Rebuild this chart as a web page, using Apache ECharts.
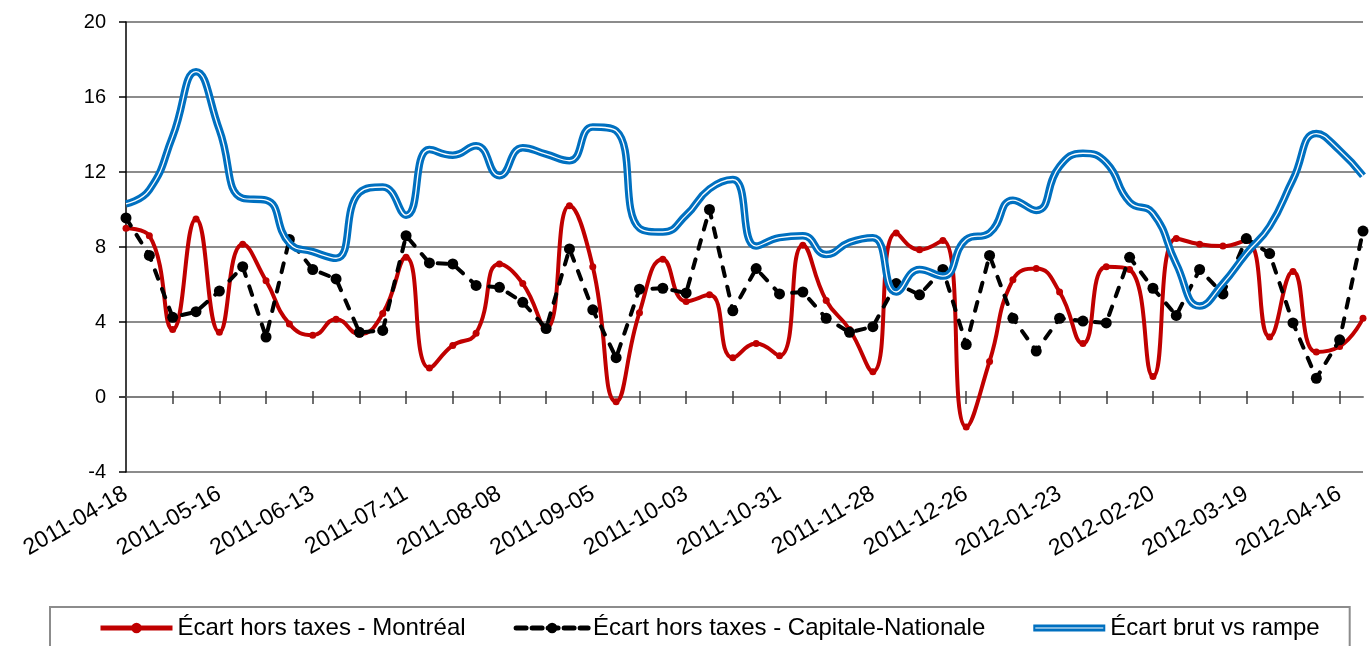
<!DOCTYPE html>
<html>
<head>
<meta charset="utf-8">
<script src="https://cdn.jsdelivr.net/npm/echarts@6/dist/echarts.min.js"></script>
<style>
  html, body { margin: 0; padding: 0; background: #fff; }
  #chart { width: 1370px; height: 646px; }
</style>
</head>
<body>
<div id="chart"></div>
<script>
// weekly dates shown on the category axis
const weeks = [
  '2011-04-18', '2011-04-25', '2011-05-02', '2011-05-09', '2011-05-16', '2011-05-23', '2011-05-30',
  '2011-06-06', '2011-06-13', '2011-06-20', '2011-06-27', '2011-07-04', '2011-07-11', '2011-07-18',
  '2011-07-25', '2011-08-01', '2011-08-08', '2011-08-15', '2011-08-22', '2011-08-29', '2011-09-05',
  '2011-09-12', '2011-09-19', '2011-09-26', '2011-10-03', '2011-10-10', '2011-10-17', '2011-10-24',
  '2011-10-31', '2011-11-07', '2011-11-14', '2011-11-21', '2011-11-28', '2011-12-05', '2011-12-12',
  '2011-12-19', '2011-12-26', '2012-01-02', '2012-01-09', '2012-01-16', '2012-01-23', '2012-01-30',
  '2012-02-06', '2012-02-13', '2012-02-20', '2012-02-27', '2012-03-05', '2012-03-12', '2012-03-19',
  '2012-03-26', '2012-04-02', '2012-04-09', '2012-04-16', '2012-04-23'
];

const montreal = [
  9.0, 8.6, 3.6, 9.5, 3.45, 8.15, 6.2, 3.9, 3.3, 4.15,
  3.35, 4.45, 7.45, 1.55, 2.75, 3.4, 7.1, 6.05, 3.65, 10.2,
  6.95, -0.25, 4.5, 7.35, 5.1, 5.45, 2.1, 2.85, 2.2, 8.1,
  5.15, 3.6, 1.35, 8.75, 7.85, 8.35, -1.6, 1.9, 6.25, 6.85,
  5.6, 2.85, 6.95, 6.8, 1.1, 8.45, 8.15, 8.05, 8.35, 3.2,
  6.7, 2.4, 2.7, 4.2
];

const capitaleNationale = [
  9.55, 7.55, 4.25, 4.55, 5.65, 6.95, 3.2, 8.4, 6.8, 6.3,
  3.45, 3.55, 8.6, 7.15, 7.1, 5.95, 5.85, 5.05, 3.65, 7.9,
  4.65, 2.1, 5.75, 5.8, 5.55, 10.0, 4.6, 6.85, 5.5, 5.6,
  4.2, 3.45, 3.75, 6.05, 5.45, 6.8, 2.8, 7.55, 4.2, 2.45,
  4.2, 4.05, 3.95, 7.45, 5.8, 4.35, 6.8, 5.5, 8.45, 7.65,
  3.95, 1.0, 3.05, 8.85
];

const brutVsRampe = [
  10.3, 11.05, 13.9, 17.35, 14.25, 10.6, 10.5, 8.2, 7.75, 7.4,
  10.9, 11.2, 9.7, 13.2, 12.9, 13.4, 11.8, 13.3, 12.95, 12.6,
  14.4, 14.2, 9.0, 8.8, 9.7, 11.1, 11.6, 8.05, 8.5, 8.6,
  7.6, 8.25, 8.5, 5.6, 6.8, 6.45, 8.4, 8.75, 10.5, 9.95,
  12.3, 13.0, 12.5, 10.4, 9.8, 7.1, 4.85, 6.05, 7.65, 9.1,
  11.6, 14.05, 13.15, 11.8
];

const seriesNames = [
  'Écart hors taxes - Montréal',
  'Écart hors taxes - Capitale-Nationale',
  'Écart brut vs rampe'
];

const yMin = -4;
const yMax = 20;
const yStep = 4;

const font = '"Liberation Sans", Arial, sans-serif';
const red = '#C00000';
const blue = '#0070C0';

const chart = echarts.init(document.getElementById('chart'));

const option = {
  animation: false,
  grid: { left: 126, right: 7, top: 22, bottom: 174 },
  legend: {
    data: [
      { name: seriesNames[0], lineStyle: { width: 5, color: red } },
      { name: seriesNames[1], lineStyle: { width: 5, color: '#000', type: [10, 6] } },
      { name: seriesNames[2], icon: 'path://M0,0 L72,0 L72,7 L0,7 Z M2,2.9 L2,4.1 L70,4.1 L70,2.9 Z' }
    ],
    left: 50,
    top: 607,
    padding: [9, 30, 10, 48],
    itemGap: 48,
    itemWidth: 72,
    itemHeight: 13,
    borderColor: '#8c8c8c',
    borderWidth: 2,
    textStyle: { fontFamily: font, fontSize: 24, color: '#000' }
  },
  xAxis: [
    {
      // labels along the bottom of the plot
      type: 'category',
      data: weeks,
      boundaryGap: false,
      position: 'bottom',
      axisLine: { show: false, onZero: false },
      axisTick: { show: false },
      axisLabel: {
        interval: 3,
        rotate: 30,
        margin: 20,
        fontFamily: font,
        fontSize: 23,
        color: '#000'
      },
      splitLine: { show: false }
    },
    {
      // zero line with ticks below
      type: 'category',
      data: weeks,
      boundaryGap: false,
      position: 'bottom',
      axisLine: { show: true, onZero: true, onZeroAxisIndex: 0, lineStyle: { color: '#7f7f7f', width: 2 } },
      axisTick: { show: true, interval: 1, length: 7, lineStyle: { color: '#404040', width: 1.5 } },
      axisLabel: { show: false },
      splitLine: { show: false }
    },
    {
      // ticks above the zero line
      type: 'category',
      data: weeks,
      boundaryGap: false,
      position: 'top',
      axisLine: { show: true, onZero: true, onZeroAxisIndex: 1, lineStyle: { color: 'rgba(0,0,0,0)' } },
      axisTick: { show: true, interval: 1, length: 6, lineStyle: { color: '#404040', width: 1.5 } },
      axisLabel: { show: false },
      splitLine: { show: false }
    }
  ],
  yAxis: [
    {
      type: 'value',
      min: yMin,
      max: yMax,
      interval: yStep,
      axisLine: { show: true, lineStyle: { color: '#000', width: 1.5 } },
      axisTick: { show: true, length: 7, lineStyle: { color: '#000', width: 1.5 } },
      axisLabel: { margin: 20, fontFamily: font, fontSize: 20, color: '#000' },
      splitLine: { lineStyle: { color: '#8c8c8c', width: 2 } }
    },
    {
      // hidden twin, only used to put the upper ticks on zero
      type: 'value',
      min: yMin,
      max: yMax,
      interval: yStep,
      position: 'right',
      axisLine: { show: false },
      axisTick: { show: false },
      axisLabel: { show: false },
      splitLine: { show: false }
    }
  ],
  series: [
    {
      name: seriesNames[0],
      type: 'line',
      data: montreal,
      smooth: 0.5,
      symbol: 'circle',
      symbolSize: 7,
      showAllSymbol: true,
      color: red,
      lineStyle: { width: 4, color: red },
      itemStyle: { color: red },
      z: 2
    },
    {
      name: seriesNames[1],
      type: 'line',
      data: capitaleNationale,
      symbol: 'circle',
      symbolSize: 11,
      showAllSymbol: true,
      color: '#000',
      lineStyle: { width: 4, color: '#000', type: [9, 11], cap: 'round' },
      itemStyle: { color: '#000' },
      z: 3
    },
    {
      name: seriesNames[2],
      type: 'line',
      data: brutVsRampe,
      smooth: 0.5,
      showSymbol: false,
      color: blue,
      lineStyle: { width: 7.5, color: blue },
      itemStyle: { color: blue },
      z: 4
    },
    {
      // thin white core of the double blue line
      name: 'brut-core',
      type: 'line',
      data: brutVsRampe,
      smooth: 0.5,
      showSymbol: false,
      silent: true,
      color: '#fff',
      lineStyle: { width: 1.3, color: '#fff' },
      z: 5
    }
  ]
};

chart.setOption(option);
</script>
</body>
</html>
